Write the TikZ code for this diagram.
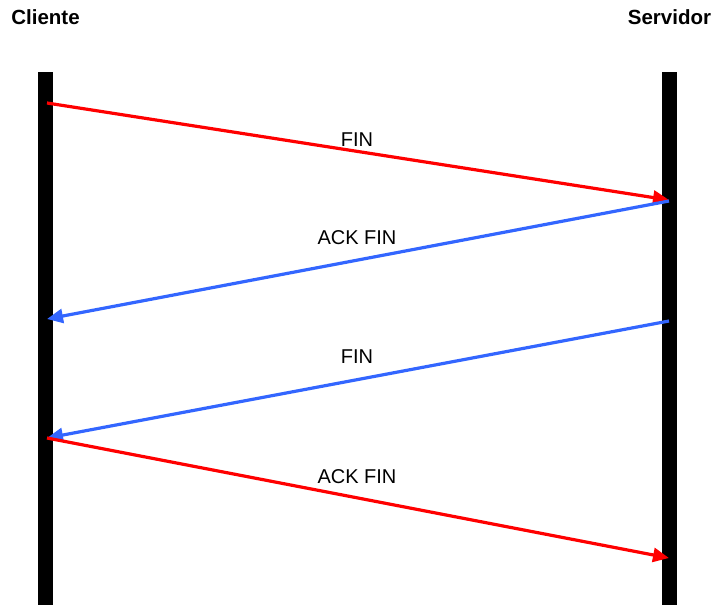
\documentclass[tikz,border=0pt]{standalone}
\usepackage{fontspec}
\setmainfont{Liberation Sans}
\usetikzlibrary{arrows.meta}
\definecolor{msgred}{RGB}{255,0,0}
\definecolor{msgblue}{RGB}{51,102,255}
\begin{document}
\begin{tikzpicture}[x=1pt,y=-1pt,
  lifeline/.style={fill=black,draw=none},
  host/.style={font=\fontsize{20.5}{24}\selectfont\bfseries,inner sep=0pt,anchor=center},
  msg/.style={line width=3.2pt,-{Triangle[length=16pt,width=14pt]}},
  lbl/.style={font=\fontsize{20}{24}\selectfont,inner sep=0pt,anchor=center}]
\useasboundingbox (0,0) rectangle (713,605);
% lifelines
\fill[lifeline] (38,72) rectangle (53,605);
\fill[lifeline] (662,72) rectangle (677,605);
\node[host] (cli) at (45.5,17) {Cliente};
\node[host] (srv) at (669.5,17) {Servidor};
% message end points on the lifelines
\coordinate (c1) at (47,103);
\coordinate (s1) at (669,200);
\coordinate (s2) at (669,201);
\coordinate (c2) at (47,319);
\coordinate (s3) at (669,321);
\coordinate (c3) at (47,438);
\coordinate (c4) at (47,438);
\coordinate (s4) at (669,558);
% messages
\draw[msg,msgred] (c1) -- (s1);
\draw[msg,msgblue] (s2) -- (c2);
\draw[msg,msgblue] (s3) -- (c3);
\draw[msg,msgred] (c4) -- (s4);
% labels
\node[lbl] (l1) at (357,140) {FIN};
\node[lbl] (l2) at (357,238) {ACK FIN};
\node[lbl] (l3) at (357,357) {FIN};
\node[lbl] (l4) at (357,477) {ACK FIN};
\end{tikzpicture}
\end{document}
